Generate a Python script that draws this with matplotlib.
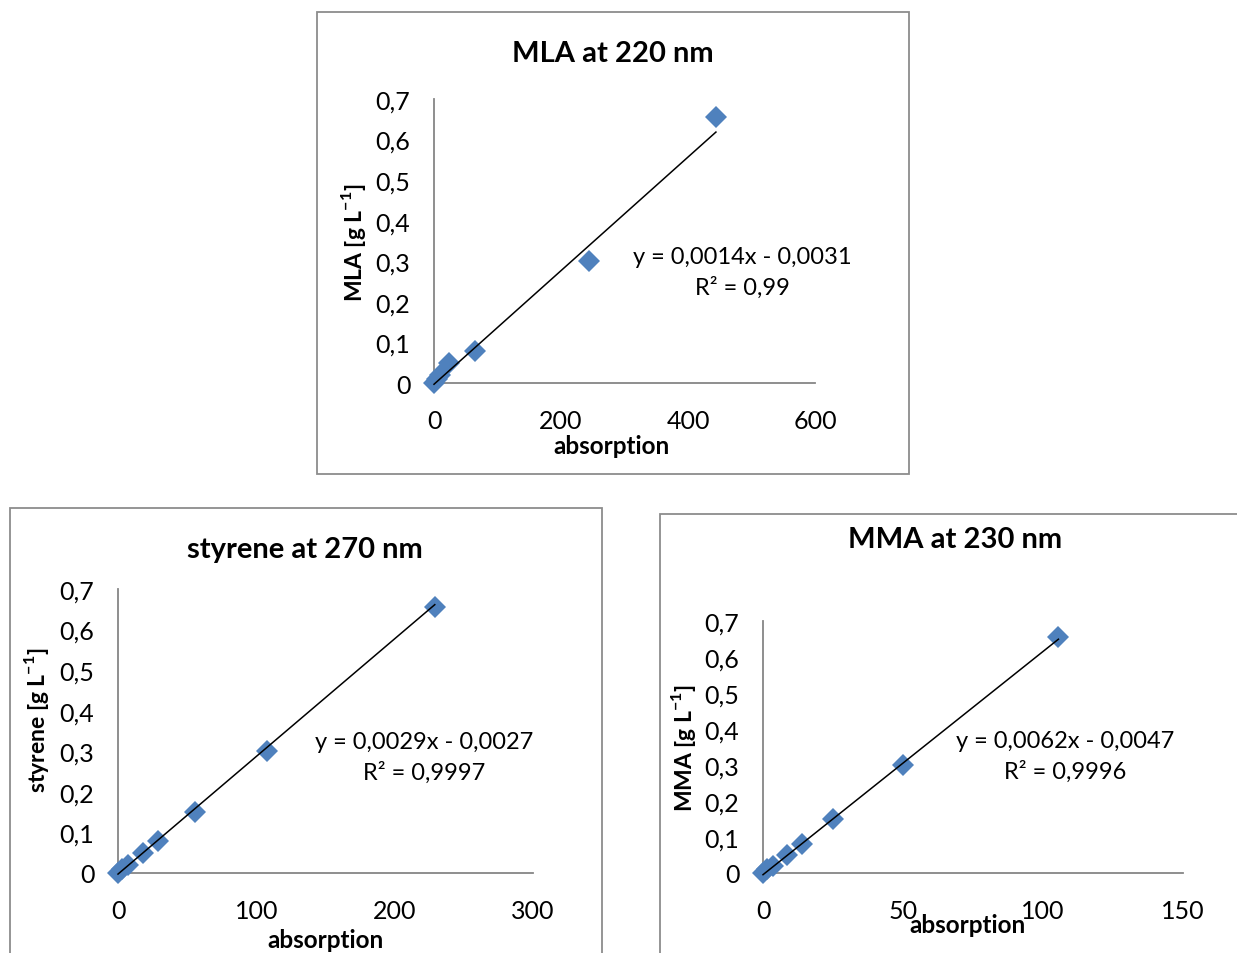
import matplotlib
matplotlib.use("Agg")
import matplotlib.pyplot as plt
from matplotlib.patches import Rectangle
from matplotlib.ticker import FixedLocator, FixedFormatter

plt.rcParams["font.family"] = ["Lato", "DejaVu Sans"]
plt.rcParams["mathtext.fontset"] = "custom"
plt.rcParams["mathtext.rm"] = "Lato"
plt.rcParams["mathtext.bf"] = "Lato:bold"

# ---------------- data ----------------
mla_x = [0, 5, 10, 24, 65, 244, 444]
mla_y = [0, 0.01, 0.02, 0.05, 0.08, 0.30, 0.655]
mla_fit = (0.0014, -0.0031)

sty_x = [0, 3, 7, 18, 29, 56, 108, 229]
sty_y = [0, 0.01, 0.02, 0.05, 0.08, 0.15, 0.30, 0.655]
sty_fit = (0.0029, -0.0027)

mma_x = [0, 1.5, 3.5, 8.5, 14, 25, 50, 105.5]
mma_y = [0, 0.01, 0.02, 0.05, 0.08, 0.15, 0.30, 0.655]
mma_fit = (0.0062, -0.0047)

y_ticks = [0, 0.1, 0.2, 0.3, 0.4, 0.5, 0.6, 0.7]
y_tick_labels = ["0", "0,1", "0,2", "0,3", "0,4", "0,5", "0,6", "0,7"]
mla_xticks = [0, 200, 400, 600]
sty_xticks = [0, 100, 200, 300]
mma_xticks = [0, 50, 100, 150]

titles = ["MLA at 220 nm", "styrene at 270 nm", "MMA at 230 nm"]
ylabels = [r"MLA [g L$^{\mathbf{-1}}$]", r"styrene [g L$^{\mathbf{-1}}$]", r"MMA [g L$^{\mathbf{-1}}$]"]
eq_texts = ["y = 0,0014x - 0,0031\nR² = 0,99",
            "y = 0,0029x - 0,0027\nR² = 0,9997",
            "y = 0,0062x - 0,0047\nR² = 0,9996"]

# ---------------- layout (pixels) ----------------
W, H = 1237, 954
fig = plt.figure(figsize=(W / 100, H / 100), dpi=100)

def fx(px):
    return px / W

def fy(py):
    return 1 - py / H

BOX = "#8c8c8c"
AXC = "#868686"
BLUE = "#4f81bd"

boxes = [(317, 13, 909, 475), (10, 509, 602, 960), (660, 515, 1245, 960)]
for (x0, y0, x1, y1) in boxes:
    fig.add_artist(Rectangle((fx(x0), fy(y1)), fx(x1 - x0), (y1 - y0) / H,
                             transform=fig.transFigure, fill=False,
                             edgecolor=BOX, linewidth=1.3))

panels = [
    dict(ax=(434, 100, 815, 384), x=mla_x, y=mla_y, fit=mla_fit, xt=mla_xticks,
         title=(613, 54), xl=(611, 447), yl=(353, 243), eq=(742, 273)),
    dict(ax=(118, 590, 533, 874), x=sty_x, y=sty_y, fit=sty_fit, xt=sty_xticks,
         title=(305, 550), xl=(325, 941), yl=(37, 720), eq=(424, 758)),
    dict(ax=(763, 622, 1183, 874), x=mma_x, y=mma_y, fit=mma_fit, xt=mma_xticks,
         title=(955, 540), xl=(968, 926), yl=(683, 748), eq=(1065, 757)),
]

for i, p in enumerate(panels):
    x0, y0, x1, y1 = p["ax"]
    ax = fig.add_axes([fx(x0), fy(y1), fx(x1 - x0), (y1 - y0) / H])
    ax.set_facecolor("none")
    xt = p["xt"]
    ax.set_xlim(xt[0], xt[-1])
    ax.set_ylim(y_ticks[0], y_ticks[-1])
    ax.xaxis.set_major_locator(FixedLocator(xt))
    ax.xaxis.set_major_formatter(FixedFormatter([str(v) for v in xt]))
    ax.yaxis.set_major_locator(FixedLocator(y_ticks))
    ax.yaxis.set_major_formatter(FixedFormatter(y_tick_labels))
    for s in ("top", "right"):
        ax.spines[s].set_visible(False)
    for s in ("left", "bottom"):
        ax.spines[s].set_color(AXC)
        ax.spines[s].set_linewidth(1.3)
    ax.tick_params(axis="y", length=0, labelsize=18, pad=17)
    ax.tick_params(axis="x", length=0, labelsize=18, pad=19)
    ax.plot(p["x"], p["y"], linestyle="none", marker="D", markersize=11,
            color=BLUE, markeredgewidth=0, clip_on=False, zorder=3)
    a, b = p["fit"]
    xs = [min(p["x"]), max(p["x"])]
    ax.plot(xs, [a * v + b for v in xs], color="black", linewidth=1.1,
            clip_on=False, zorder=4)

    fig.text(fx(p["title"][0]), fy(p["title"][1]), titles[i], ha="center",
             va="center", fontsize=21, fontweight="bold")
    fig.text(fx(p["xl"][0]), fy(p["xl"][1]), "absorption", ha="center",
             va="center", fontsize=17.5, fontweight="bold")
    fig.text(fx(p["yl"][0]), fy(p["yl"][1]), ylabels[i], ha="center",
             va="center", fontsize=16.5, fontweight="bold", rotation=90)
    fig.text(fx(p["eq"][0]), fy(p["eq"][1]), eq_texts[i], ha="center",
             va="center", fontsize=17, multialignment="center", linespacing=1.45)

fig.savefig("out.png", dpi=100, facecolor="white")
